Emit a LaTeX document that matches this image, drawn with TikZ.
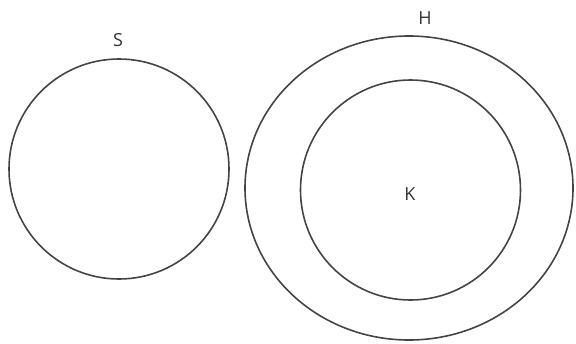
\documentclass[tikz,border=0pt]{standalone}
\usepackage{fontspec}
\setmainfont{Open Sans}
\usetikzlibrary{shapes.geometric}
\definecolor{linec}{HTML}{444444}
\definecolor{textc}{HTML}{333333}
\begin{document}
\begin{tikzpicture}[x=1pt,y=-1pt,
  ring/.style={draw=linec,line width=1.6pt,inner sep=0pt},
  lbl/.style={font=\fontsize{18}{18}\selectfont,text=textc,inner sep=0pt}]
\useasboundingbox (0,0) rectangle (576,343);
\node[ring,circle,minimum size=220pt] (S) at (119,169) {};
\node[ring,ellipse,minimum width=328pt,minimum height=304pt] (H) at (409,188) {};
\node[ring,circle,minimum size=220pt] (K) at (410.5,190) {};
\node[lbl] (Slbl) at (118,40) {S};
\node[lbl] (Hlbl) at (425,18) {H};
\node[lbl] (Klbl) at (410,194) {K};
\end{tikzpicture}
\end{document}
